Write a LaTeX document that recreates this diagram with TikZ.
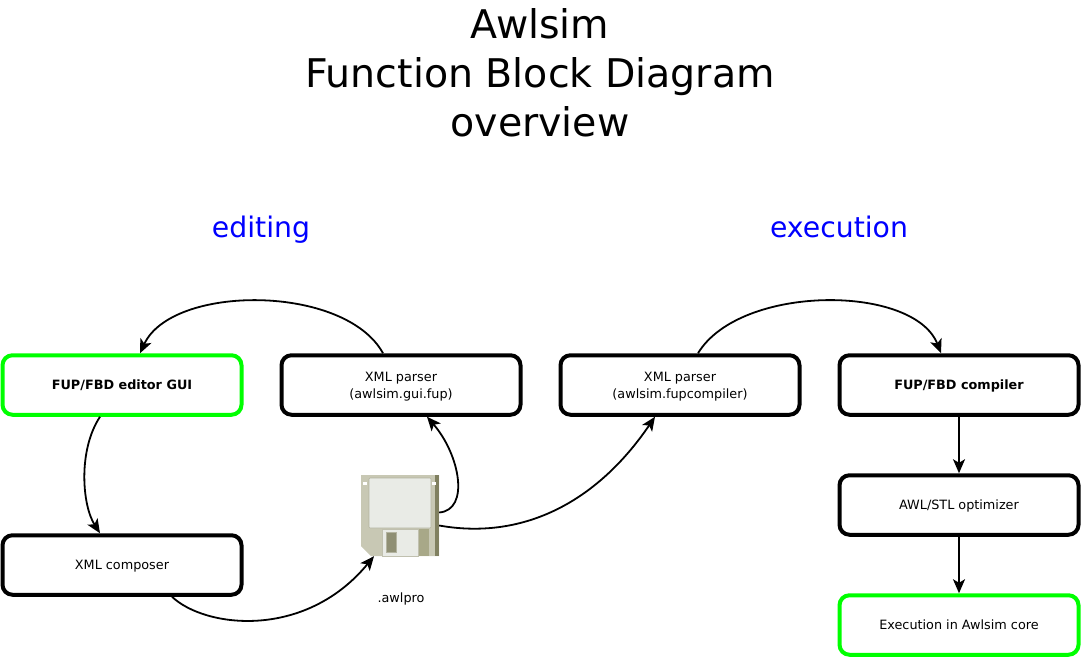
\documentclass[tikz,border=0pt]{standalone}
\usepackage{fontspec}
\usetikzlibrary{arrows.meta}
\setmainfont{DejaVu Sans}
\tikzset{
  fbox/.style={draw=black, line width=4pt, rounded corners=10pt, minimum width=239pt, minimum height=59.5pt, align=center, text depth=0pt, font=\fontsize{12.8}{17}\selectfont, inner sep=0pt},
  gbox/.style={fbox, draw=green!100},
  conn/.style={->, line width=1.8pt},
  headline/.style={text=blue, anchor=base, font=\fontsize{28.3}{34}\selectfont}
}
\definecolor{diskbody}{RGB}{200,200,180}
\definecolor{diskdark}{RGB}{128,128,96}
\definecolor{diskmid}{RGB}{168,168,136}
\definecolor{disklabel}{RGB}{233,235,230}
\begin{document}
\begin{tikzpicture}[x=1pt, y=-1pt, >={Stealth[length=14pt, width=12pt, inset=3.5pt]}]
  \useasboundingbox (0,0) rectangle (1084,658);
  \node[align=center, font=\fontsize{39.5}{49}\selectfont] (title) at (540,73) {Awlsim\\Function Block Diagram\\overview};
  \node[headline] (editing) at (261,237) {editing};
  \node[headline] (execution) at (839,237) {execution};

  \node[gbox, font=\fontsize{12.8}{17}\selectfont\bfseries] (gui) at (122,385) {FUP/FBD editor GUI};
  \node[fbox] (guiparser) at (401,385) {XML parser\\(awlsim.gui.fup)};
  \node[fbox] (fupparser) at (680,385) {XML parser\\(awlsim.fupcompiler)};
  \node[fbox, font=\fontsize{12.8}{17}\selectfont\bfseries] (compiler) at (959,385) {FUP/FBD compiler};
  \node[fbox] (composer) at (122,565) {XML composer};
  \node[fbox] (optimizer) at (959,505) {AWL/STL optimizer};
  \node[gbox] (core) at (959,625) {Execution in Awlsim core};

  % floppy
  \node[minimum width=78pt, minimum height=81pt, inner sep=0pt] (disk) at (400,515.5) {};
  \fill[diskbody] (361,475) -- (439,475) -- (439,556) -- (371,556) -- (361,546) -- cycle;
  \fill[diskdark] (435,475) -- (439,475) -- (439,556) -- (435,556) -- cycle;
  \fill[white] (363,482) rectangle (367,485);
  \fill[white] (432,482) rectangle (436,485);
  \draw[diskdark!60, fill=disklabel, line width=0.6pt, rounded corners=1pt] (369,478) rectangle (431,528);
  \fill[diskmid] (418,529) rectangle (429,556);
  \draw[diskdark!50, fill=disklabel, line width=0.6pt] (382,529) rectangle (418,556);
  \draw[diskdark!60, fill=diskmid!85!black, line width=0.6pt] (386,532) rectangle (396,552);
  \node[font=\fontsize{12.8}{14}\selectfont] (awlpro) at (401,599) {.awlpro};

  \draw[conn] ([xshift=-18pt]guiparser.north) .. controls (345,284) and (172,284) .. ([xshift=18pt]gui.north);
  \draw[conn] ([xshift=-22pt]gui.south) .. controls (78,450) and (82,505) .. ([xshift=-22pt]composer.north);
  \draw[conn] ([xshift=50pt]composer.south) .. controls (205,628) and (305,640) .. ([xshift=-26pt]disk.south);
  \draw[conn] ([yshift=3pt]disk.east) .. controls (470,510) and (460,455) .. ([xshift=26pt]guiparser.south);
  \draw[conn] ([yshift=-10pt]disk.east) .. controls (520,540) and (595,505) .. ([xshift=-25pt]fupparser.south);
  \draw[conn] ([xshift=18pt]fupparser.north) .. controls (740,284) and (914,284) .. ([xshift=-18pt]compiler.north);
  \draw[conn] (compiler) -- (optimizer);
  \draw[conn] (optimizer) -- (core);
\end{tikzpicture}
\end{document}
